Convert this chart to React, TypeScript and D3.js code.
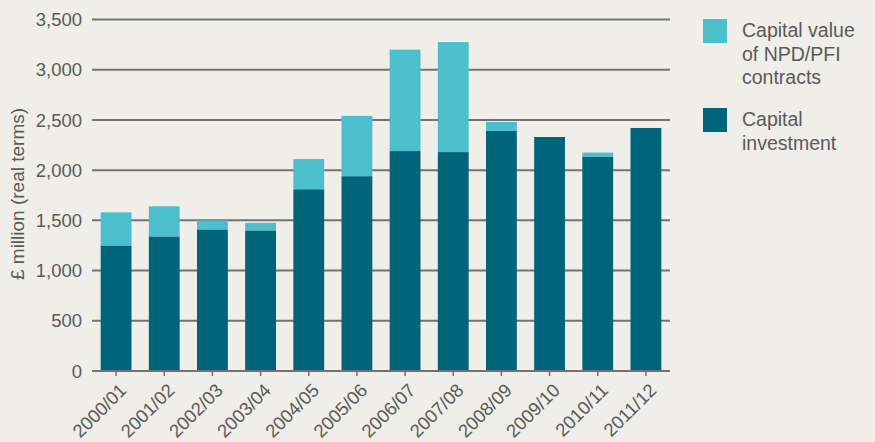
import React from "react";
import * as d3 from "d3";

const categories = ["2000/01","2001/02","2002/03","2003/04","2004/05","2005/06","2006/07","2007/08","2008/09","2009/10","2010/11","2011/12"];
const capitalInvestment = [1250,1340,1410,1400,1810,1940,2190,2180,2390,2330,2135,2420];
const npdPfiValue = [330,300,90,75,300,600,1010,1095,90,0,40,0];
const yTicks = [0,500,1000,1500,2000,2500,3000,3500];
const legendItems = [
  { key: "pfi", lines: ["Capital value", "of NPD/PFI", "contracts"] },
  { key: "inv", lines: ["Capital", "investment"] },
];

const W = 875, H = 442;
const DARK = "#00647a";
const LIGHT = "#4cbfcc";
const BG = "#efeee8";
const GRID = "#727272";
const TEXT = "#5a5a5a";
const FONT = "'Liberation Sans', Arial, sans-serif";

export default function App() {
  const x = d3.scaleBand<string>().domain(categories).range([92, 670]).paddingInner(0.36).paddingOuter(0.18);
  const y = d3.scaleLinear().domain([0, 3500]).range([371, 19.5]);
  const data = categories.map((c, i) => ({ c, inv: capitalInvestment[i], pfi: npdPfiValue[i] }));
  const stack = d3.stack<any>().keys(["inv", "pfi"])(data);
  const colors: Record<string, string> = { inv: DARK, pfi: LIGHT };

  return (
    <svg width={W} height={H} style={{ position: "fixed", left: 0, top: 0, fontFamily: FONT }}>
      <rect x={0} y={0} width={W} height={H} fill={BG} />
      {yTicks.map((t) => (
        <g key={t}>
          <line x1={92} x2={670} y1={y(t)} y2={y(t)} stroke={GRID} strokeWidth={2} />
          <text x={82} y={y(t)} dy="0.36em" textAnchor="end" fontSize={18.5} fill={TEXT}>{d3.format(",")(t)}</text>
        </g>
      ))}
      {stack.map((s) => (
        <g key={s.key} fill={colors[s.key]}>
          {s.map((d, i) => (
            d[1] - d[0] > 0 ? (
              <rect key={i} x={x(categories[i])} width={x.bandwidth()} y={y(d[1])} height={y(d[0]) - y(d[1])} />
            ) : null
          ))}
        </g>
      ))}
      <line x1={92} x2={670} y1={y(0)} y2={y(0)} stroke={GRID} strokeWidth={2} />
      {categories.map((c) => {
        const cx = (x(c) as number) + x.bandwidth() / 2;
        return (
          <g key={c}>
            <line x1={cx} x2={cx} y1={y(0)} y2={y(0) + 5} stroke={GRID} strokeWidth={1.5} />
            <text transform={`translate(${cx + 5},${y(0) + 14}) rotate(-45)`} textAnchor="end" dy="0.5em" fontSize={18.5} fill={TEXT}>{c}</text>
          </g>
        );
      })}
      <text transform={`translate(24,194) rotate(-90)`} textAnchor="middle" fontSize={19} fill={TEXT}>£ million (real terms)</text>
      {legendItems.map((item, k) => {
        const top = k === 0 ? 19 : 108;
        return (
          <g key={item.key}>
            <rect x={703} y={top} width={24} height={24} fill={colors[item.key]} />
            {item.lines.map((ln, j) => (
              <text key={j} x={742} y={top + 18 + j * 23.5} fontSize={19.5} fill={TEXT}>{ln}</text>
            ))}
          </g>
        );
      })}
    </svg>
  );
}
